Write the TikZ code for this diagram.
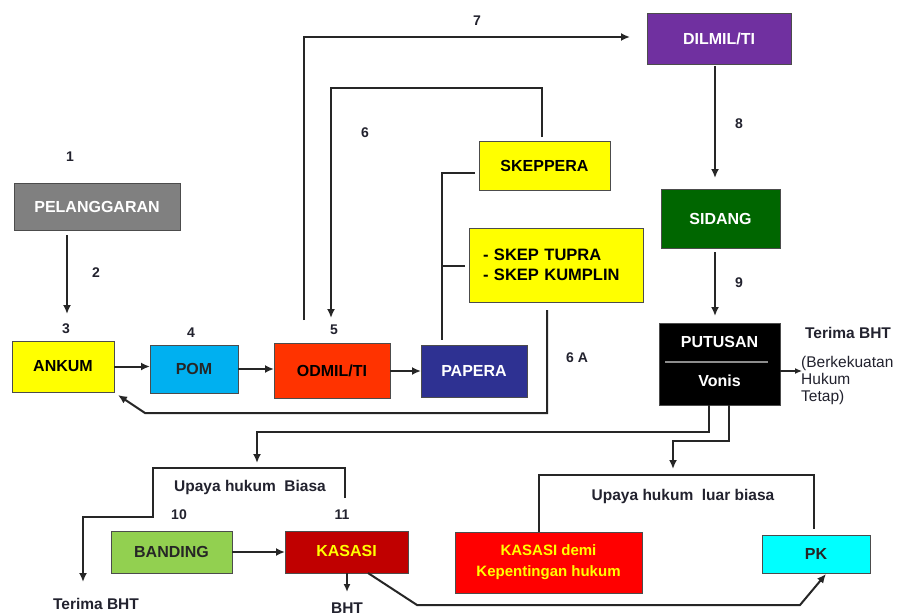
\documentclass[tikz,border=0pt]{standalone}
\usepackage{fontspec}
\setmainfont{Liberation Sans}
\usetikzlibrary{arrows.meta}
\definecolor{pelgray}{HTML}{808080}
\definecolor{ylw}{HTML}{FFFF00}
\definecolor{pomblue}{HTML}{00B0F0}
\definecolor{odred}{HTML}{FF3300}
\definecolor{papblue}{HTML}{2E3192}
\definecolor{dilpurple}{HTML}{7030A0}
\definecolor{sidgreen}{HTML}{006600}
\definecolor{bandgreen}{HTML}{92D050}
\definecolor{kasred}{HTML}{C00000}
\definecolor{demired}{HTML}{FF0000}
\definecolor{pkcyan}{HTML}{00FFFF}
\definecolor{lblcol}{HTML}{22222E}
\tikzset{
  box/.style={draw=black!70, line width=0.9pt, inner sep=0pt, outer sep=0pt,
    font=\bfseries\fontsize{16}{17}\selectfont, align=center},
  conn/.style={line width=2pt, draw=black!85},
  arr/.style={conn, -{Latex[length=9pt,width=8pt]}},
  lbl/.style={font=\bfseries\fontsize{14}{16}\selectfont, text=lblcol, inner sep=0pt},
  txt/.style={font=\bfseries\fontsize{15.5}{17}\selectfont, text=lblcol, inner sep=0pt},
}
\begin{document}
\begin{tikzpicture}[x=1pt,y=-1pt]
\useasboundingbox[fill=white] (0,0) rectangle (904,615);

% boxes
\node[box, fill=pelgray, text=white, minimum width=166, minimum height=47] (pel) at (97,206.5) {PELANGGARAN};
\node[box, fill=ylw, text=black, minimum width=102, minimum height=51] (ankum) at (63,366.5) {ANKUM};
\node[box, fill=pomblue, text=black!85, minimum width=88, minimum height=48] (pom) at (194,369) {POM};
\node[box, fill=odred, text=black, minimum width=116, minimum height=55] (odmil) at (332,370.5) {ODMIL/TI};
\node[box, fill=papblue, text=white, minimum width=106, minimum height=52] (papera) at (474,371) {PAPERA};
\node[box, fill=ylw, text=black, minimum width=131, minimum height=49] (skeppera) at (544.5,165.5) {SKEPPERA};
\node[box, fill=ylw, text=black, minimum width=174, minimum height=74, align=left, font=\bfseries\fontsize{16.5}{17}\selectfont, text width=146, inner xsep=14pt] (skep) at (556,265) {- SKEP TUPRA\\[3pt]- SKEP KUMPLIN};
\node[box, fill=dilpurple, text=white, minimum width=144, minimum height=51] (dilmil) at (719,38.5) {DILMIL/TI};
\node[box, fill=sidgreen, text=white, minimum width=119, minimum height=59] (sidang) at (720.5,218.5) {SIDANG};
\node[box, fill=black, minimum width=121, minimum height=82] (putusan) at (719.5,364) {};
\node[font=\bfseries\fontsize{16}{17}\selectfont, text=white, inner sep=0pt] (put1) at (719.5,342) {PUTUSAN};
\node[font=\bfseries\fontsize{16}{17}\selectfont, text=white, inner sep=0pt] (put2) at (719.5,381) {Vonis};
\coordinate (pl1) at (665,362);
\coordinate (pl2) at (768,362);
\draw[line width=2pt, draw=black!45] (pl1) -- (pl2);
\node[box, fill=bandgreen, text=black!85, minimum width=121, minimum height=42] (banding) at (171.5,552) {BANDING};
\node[box, fill=kasred, text=ylw, minimum width=123, minimum height=42] (kasasi) at (346.5,552) {\raisebox{3pt}{KASASI}};
\node[box, fill=demired, text=ylw, minimum width=187, minimum height=61, font=\bfseries\fontsize{15}{21}\selectfont] (demi) at (548.5,562.5) {KASASI demi\\Kepentingan hukum};
\node[box, fill=pkcyan, text=black!85, minimum width=108, minimum height=38] (pk) at (816,554) {PK};

% labels
\node[lbl] (n1) at (70,157) {1};
\node[lbl] (n2) at (96,273) {2};
\node[lbl] (n3) at (66,329) {3};
\node[lbl] (n4) at (191,333) {4};
\node[lbl] (n5) at (334,330) {5};
\node[lbl] (n6) at (365,133) {6};
\node[lbl] (n6a) at (577,358) {6 A};
\node[lbl] (n7) at (477,21) {7};
\node[lbl] (n8) at (739,124) {8};
\node[lbl] (n9) at (739,283) {9};
\node[lbl] (n10) at (179,515) {10};
\node[lbl] (n11) at (342,515) {11};
\node[txt] (tbht1) at (848,333) {Terima BHT};
\node[font=\fontsize{15.5}{17}\selectfont, text=lblcol, inner sep=0pt, align=left, anchor=north west] (berk) at (801,356) {(Berkekuatan\\Hukum\\Tetap)};
\node[txt] (ub) at (250,487) {Upaya hukum\ \ Biasa};
\node[txt] (ulb) at (683,496) {Upaya hukum\ \ luar biasa};
\node[txt] (tbht2) at (96,604) {Terima BHT};
\node[txt] (bht) at (347,608) {BHT};

% connectors
\coordinate (c2a) at (67,235);
\coordinate (c2b) at (67,314);
\draw[arr] (c2a) -- (c2b);
\draw[arr] (ankum.east) -- (ankum.east -| pom.west);
\draw[arr] (pom.east) -- (pom.east -| odmil.west);
\draw[arr] (papera.west -| odmil.east) -- (papera.west);

% 7
\coordinate (o7) at (304,320);
\coordinate (d7) at (630,37);
\draw[arr] (o7) |- (d7);
% 6
\coordinate (s6) at (542,137);
\coordinate (t6) at (542,88);
\coordinate (o6) at (331,318);
\draw[arr] (s6) -- (t6) -| (o6);
% skeppera bracket
\coordinate (sk1) at (475,173);
\coordinate (sk2) at (465,266);
\coordinate (sk3) at (442,340);
\coordinate (sk4) at (442,266);
\draw[conn] (sk1) -| (sk3);
\draw[conn] (sk2) -- (sk4);
% 6A
\coordinate (a6) at (547,310);
\coordinate (a6b) at (547,413);
\coordinate (a6c) at (145,413);
\coordinate (a6d) at (118,395);
\draw[arr] (a6) -- (a6b) -- (a6c) -- (a6d);
% 8, 9
\coordinate (e8a) at (715,66);
\coordinate (e8b) at (715,178);
\draw[arr] (e8a) -- (e8b);
\coordinate (e9a) at (715,252);
\coordinate (e9b) at (715,316);
\draw[arr] (e9a) -- (e9b);
% putusan right
\coordinate (pr1) at (780,371);
\coordinate (pr2) at (802,371);
\draw[conn, line width=1.2pt, -{Latex[length=7pt,width=6pt]}] (pr1) -- (pr2);
% putusan down left
\coordinate (pd1) at (709,405);
\coordinate (pd2) at (709,432);
\coordinate (pd3) at (257,463);
\draw[arr] (pd1) -- (pd2) -| (pd3);
% putusan down right
\coordinate (pe1) at (729,405);
\coordinate (pe2) at (729,441);
\coordinate (pe3) at (673,469);
\draw[arr] (pe1) -- (pe2) -| (pe3);
% bracket 1
\coordinate (b1a) at (345,498);
\coordinate (b1b) at (345,468);
\coordinate (b1c) at (153,468);
\coordinate (b1d) at (153,517);
\coordinate (b1e) at (83,582);
\draw[arr] (b1a) -- (b1b) -- (b1c) -- (b1d) -| (b1e);
% bracket 2
\coordinate (b2a) at (539,475);
\coordinate (b2b) at (814,475);
\draw[conn] (demi.north -| b2a) -- (b2a) -- (b2b) -- (b2b |- 0,529);
% banding -> kasasi
\draw[arr] (banding.east) -- (banding.east -| kasasi.west);
% kasasi -> BHT
\coordinate (kb1) at (347,573);
\coordinate (kb2) at (347,592);
\draw[conn, -{Latex[length=8pt,width=7pt]}] (kb1) -- (kb2);
% kasasi -> PK
\coordinate (kp1) at (368,573);
\coordinate (kp2) at (417,605);
\coordinate (kp3) at (800,605);
\coordinate (kp4) at (826,574);
\draw[arr] (kp1) -- (kp2) -- (kp3) -- (kp4);
\end{tikzpicture}
\end{document}
